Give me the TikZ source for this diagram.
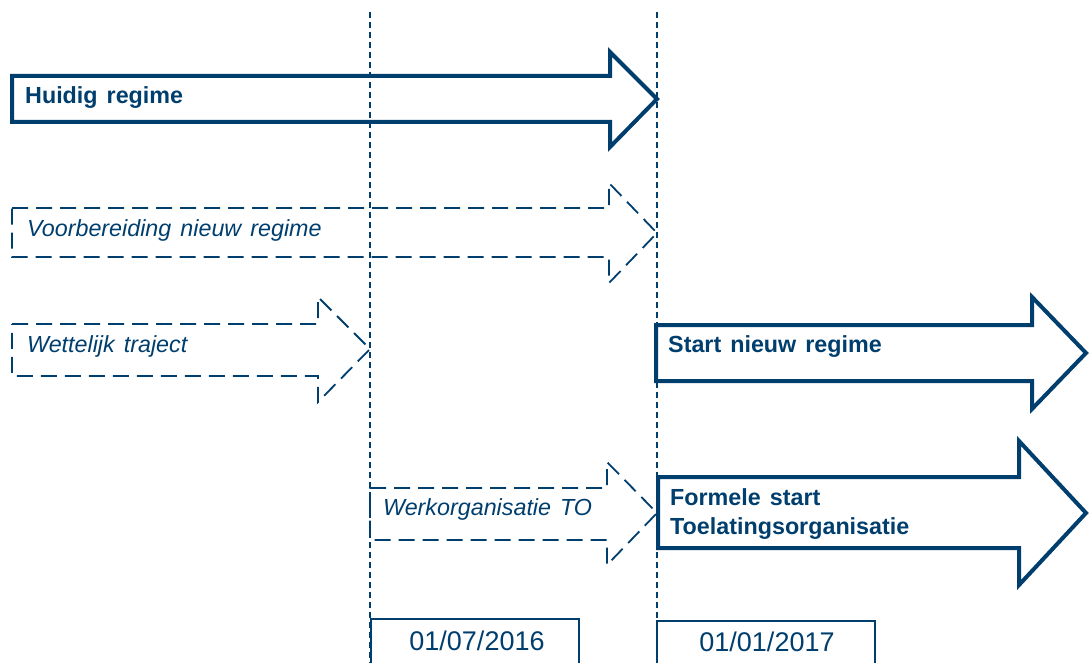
\documentclass[tikz,border=0pt]{standalone}
\usepackage{fontspec}
\setmainfont{Liberation Sans}[WordSpace=1.4]
\definecolor{navy}{RGB}{0,62,110}
\tikzset{
  solidarrow/.style={draw=navy, line width=4pt, line join=miter},
  dasharrow/.style={draw=navy, line width=1.8pt, dash pattern=on 16pt off 8pt},
  guide/.style={draw=navy, line width=1.2pt, dash pattern=on 6pt off 4pt},
  datebox/.style={draw=navy, line width=1.8pt},
  boldlbl/.style={text=navy, anchor=west, inner sep=0pt, font=\fontsize{23.3}{29}\selectfont\bfseries, align=left},
  itlbl/.style={text=navy, anchor=west, inner sep=0pt, font=\fontsize{23.3}{26}\selectfont\itshape},
  datelbl/.style={text=navy, inner sep=0pt, font=\fontsize{27}{30}\selectfont}
}
\begin{document}
\begin{tikzpicture}[x=1pt,y=-1pt]
\useasboundingbox (0,0) rectangle (1089,663);
\clip (0,0) rectangle (1089,663);
% guide lines
\coordinate (g1t) at (370,12); \coordinate (g1b) at (370,663);
\coordinate (g2t) at (657,12); \coordinate (g2b) at (657,663);
\draw[guide] (g1t) -- (g1b);
\draw[guide] (g2t) -- (g2b);
% Huidig regime
\draw[solidarrow] (12,76) -- (610,76) -- (610,52) -- (657,99) -- (610,147) -- (610,122) -- (12,122) -- cycle;
\node[boldlbl] (huidig) at (25,98) {Huidig regime};
% Voorbereiding
\draw[dasharrow] (12,208) -- (609,208) -- (609,183) -- (657,233) -- (609,283) -- (609,257) -- (12,257) -- cycle;
\node[itlbl] (voorb) at (27,230) {Voorbereiding nieuw regime};
% Wettelijk traject
\draw[dasharrow] (12,324) -- (318,324) -- (318,297) -- (370,349) -- (318,402) -- (318,376) -- (12,376) -- cycle;
\node[itlbl] (wett) at (27,346) {Wettelijk traject};
% Start nieuw regime
\draw[solidarrow] (656,325) -- (1032,325) -- (1032,297) -- (1086,353) -- (1032,409) -- (1032,381) -- (656,381) -- cycle;
\node[boldlbl] (start) at (668,347) {Start nieuw regime};
% Werkorganisatie TO
\draw[dasharrow] (370,488) -- (607,488) -- (607,462) -- (657,513) -- (607,565) -- (607,540) -- (370,540) -- cycle;
\node[itlbl] (werk) at (383,509) {Werkorganisatie TO};
% Formele start
\draw[solidarrow] (658,477) -- (1019,477) -- (1019,441) -- (1086,513) -- (1019,585) -- (1019,548) -- (658,548) -- cycle;
\node[boldlbl] (formele) at (670,514) {Formele start\\Toelatingsorganisatie};
% date boxes
\draw[datebox] (371,672) -- (371,619) -- (579,619) -- (579,672);
\node[datelbl] (d1) at (477,641) {01/07/2016};
\draw[datebox] (657,672) -- (657,621) -- (875,621) -- (875,672);
\node[datelbl] (d2) at (767,642) {01/01/2017};
\end{tikzpicture}
\end{document}
